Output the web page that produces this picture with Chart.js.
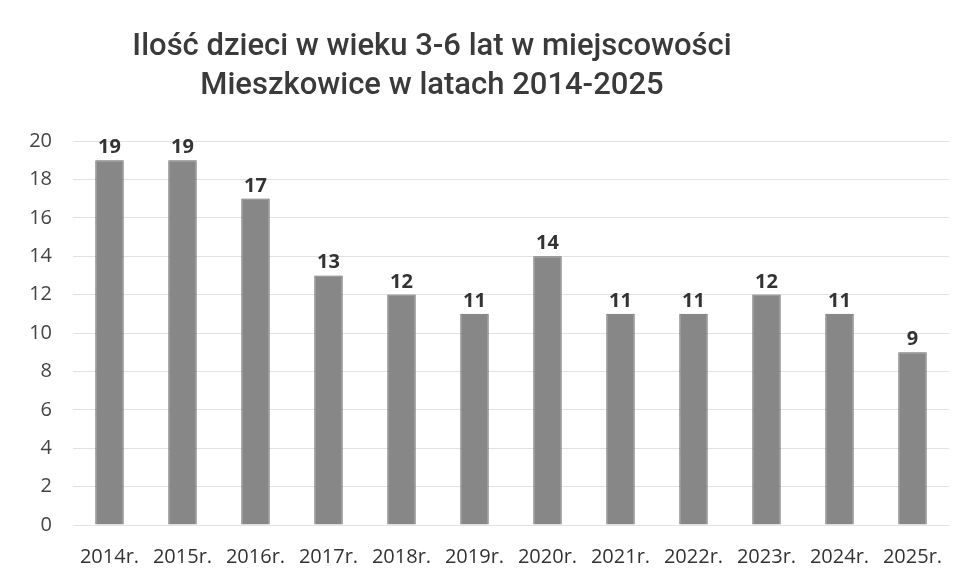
<!DOCTYPE html>
<html><head><meta charset="utf-8">
<script src="https://cdn.jsdelivr.net/npm/chart.js@4"></script>
<style>
html,body{margin:0;padding:0;background:#fff;}
#wrap{position:relative;width:970px;height:585px;}
#title{position:absolute;left:0;width:864px;top:25px;text-align:center;font-family:Roboto,sans-serif;font-weight:500;font-size:31px;line-height:39px;color:#3a3a3a;}
canvas{position:absolute;left:0;top:0;}
</style></head>
<body>
<div id="wrap">
<canvas id="c" width="970" height="585"></canvas>
<div id="title">Ilość dzieci w wieku 3-6 lat w miejscowości<br>Mieszkowice w latach 2014-2025</div>
</div>
<script>
const categories = ["2014r.","2015r.","2016r.","2017r.","2018r.","2019r.","2020r.","2021r.","2022r.","2023r.","2024r.","2025r."];
const values = [19,19,17,13,12,11,14,11,11,12,11,9];
const yTicks = [0,2,4,6,8,10,12,14,16,18,20];

const FONT = '"Open Sans", sans-serif';

const valueLabels = {
  id:'valueLabels',
  afterDatasetsDraw(chart){
    const ctx = chart.ctx;
    const meta = chart.getDatasetMeta(0);
    ctx.save();
    ctx.font = 'bold 20px ' + FONT;
    ctx.fillStyle = '#333';
    ctx.textAlign = 'center';
    ctx.textBaseline = 'alphabetic';
    meta.data.forEach((bar,i)=>{
      ctx.fillText(String(values[i]), bar.x, bar.y - 7);
    });
    ctx.restore();
  }
};

function draw(){
new Chart(document.getElementById('c'), {
  type:'bar',
  data:{labels:categories, datasets:[{data:values, backgroundColor:'#878787', borderColor:'#666', borderWidth:1, barPercentage:0.39, categoryPercentage:1}]},
  options:{
    responsive:false, animation:false, maintainAspectRatio:false,
    layout:{padding:{top:141,right:21,left:0,bottom:0}},
    plugins:{legend:{display:false}, title:{display:false}, tooltip:{enabled:false}},
    scales:{
      y:{min:0,max:20,
        afterBuildTicks(s){ s.ticks = yTicks.map(v=>({value:v})); },
        afterFit(s){ s.width = 73; },
        grid:{color:'#e2e2e2', drawTicks:false}, border:{display:false},
        ticks:{padding:21, color:'#444', font:{family:FONT, size:20}}},
      x:{
        afterFit(s){ s.height = 60; },
        grid:{display:false, drawTicks:false}, border:{display:false},
        ticks:{padding:20, color:'#333', maxRotation:0, autoSkip:false, font:{family:FONT, size:20}}}
    }
  },
  plugins:[valueLabels]
});
}
Promise.all([
  document.fonts.load('20px "Open Sans"'),
  document.fonts.load('bold 20px "Open Sans"')
]).then(draw, draw);
</script>
</body></html>
